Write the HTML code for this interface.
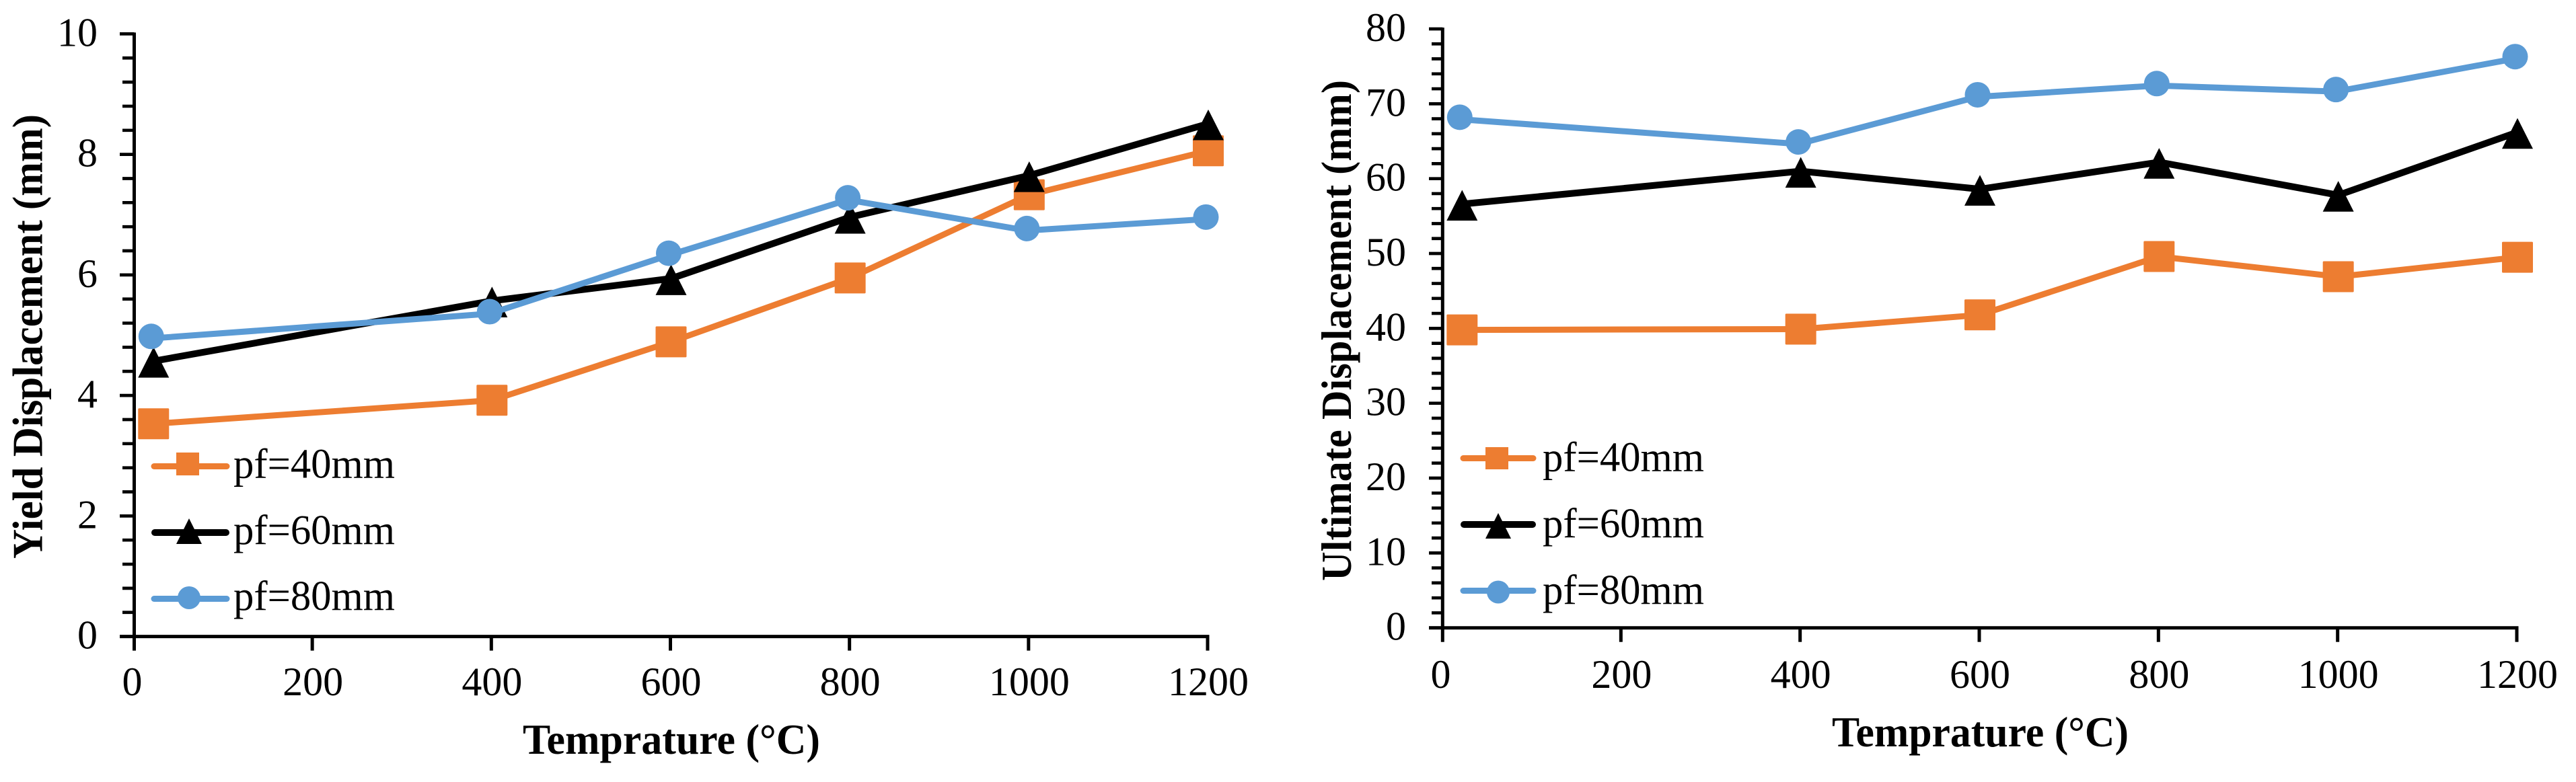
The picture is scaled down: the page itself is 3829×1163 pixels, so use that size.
<!DOCTYPE html>
<html lang="en">
<head>
<meta charset="utf-8">
<title>Yield and ultimate displacement versus temperature</title>
<style>
html,body{margin:0;padding:0;background:#fff;}
svg{display:block;}
text{font-family:"Liberation Serif",serif;fill:#000;}
.lg{font-size:62px;}
.ttl{font-size:63px;font-weight:bold;}
</style>
</head>
<body>
<svg id="figure" xmlns="http://www.w3.org/2000/svg" width="3829" height="1163" viewBox="0 0 3829 1163">
<rect x="0" y="0" width="3829" height="1163" fill="#fff"/>
<g id="chart-left">
  <text class="ttl" transform="translate(62.5 831) rotate(-90)" textLength="661" lengthAdjust="spacingAndGlyphs">Yield Displacement (mm)</text>
  <text class="ttl" x="777" y="1121" textLength="442" lengthAdjust="spacingAndGlyphs">Temprature (°C)</text>
</g>
<g id="chart-right">
  <text class="ttl" transform="translate(2008 864) rotate(-90)" textLength="745" lengthAdjust="spacingAndGlyphs">Ultimate Displacement (mm)</text>
  <text class="ttl" x="2723" y="1110" textLength="441" lengthAdjust="spacingAndGlyphs">Temprature (°C)</text>
</g>
<g>
  <g>
    <line x1="229" x2="337" y1="693.5" y2="693.5" stroke="#ED7D31" stroke-width="9" stroke-linecap="round"/>
    <rect x="262" y="673" width="34" height="34" fill="#ED7D31"/>
    <text class="lg" x="347" y="710.5" textLength="240" lengthAdjust="spacingAndGlyphs">pf=40mm</text>
  </g>
  <g>
    <line x1="230" x2="336" y1="792" y2="792" stroke="#000" stroke-width="10" stroke-linecap="round"/>
    <polygon points="281,771 262,809 300,809" fill="#000"/>
    <text class="lg" x="347" y="809" textLength="240" lengthAdjust="spacingAndGlyphs">pf=60mm</text>
  </g>
  <g>
    <line x1="229" x2="337" y1="890.5" y2="890.5" stroke="#5B9BD5" stroke-width="9" stroke-linecap="round"/>
    <circle cx="281" cy="889" r="17" fill="#5B9BD5"/>
    <text class="lg" x="347" y="907" textLength="240" lengthAdjust="spacingAndGlyphs">pf=80mm</text>
  </g>
</g>
<g>
  <g>
    <line x1="2175" x2="2279" y1="681.5" y2="681.5" stroke="#ED7D31" stroke-width="9" stroke-linecap="round"/>
    <rect x="2208" y="665" width="34" height="33" fill="#ED7D31"/>
    <text class="lg" x="2293" y="700.5" textLength="240" lengthAdjust="spacingAndGlyphs">pf=40mm</text>
  </g>
  <g>
    <line x1="2176" x2="2278" y1="780" y2="780" stroke="#000" stroke-width="10" stroke-linecap="round"/>
    <polygon points="2227,763 2208,801 2246,801" fill="#000"/>
    <text class="lg" x="2293" y="799" textLength="240" lengthAdjust="spacingAndGlyphs">pf=60mm</text>
  </g>
  <g>
    <line x1="2175" x2="2279" y1="878.5" y2="878.5" stroke="#5B9BD5" stroke-width="9" stroke-linecap="round"/>
    <circle cx="2227" cy="880.5" r="17" fill="#5B9BD5"/>
    <text class="lg" x="2293" y="898" textLength="240" lengthAdjust="spacingAndGlyphs">pf=80mm</text>
  </g>
</g>
</svg>
<script>
// Shared category values (°C)
var temperatures = [22, 400, 600, 800, 1000, 1200];
var xTickLabels = [0, 200, 400, 600, 800, 1000, 1200];

// Yield displacement chart
var yieldPf40 = [3.53, 3.92, 4.89, 5.95, 7.33, 8.06];
var yieldPf60 = [4.57, 5.57, 5.94, 6.96, 7.65, 8.51];
var yieldPf80 = [4.98, 5.39, 6.36, 7.28, 6.77, 6.96];
var yieldTickLabels = [0, 2, 4, 6, 8, 10];

// Ultimate displacement chart
var ultimatePf40 = [39.8, 39.9, 41.8, 49.6, 46.9, 49.5];
var ultimatePf60 = [56.6, 61.0, 58.6, 62.2, 57.8, 66.2];
var ultimatePf80 = [68.2, 64.9, 71.2, 72.7, 71.9, 76.3];
var ultimateTickLabels = [0, 10, 20, 30, 40, 50, 60, 70, 80];

var SVG_NS = 'http://www.w3.org/2000/svg';

function make(tag, parent) {
  var el = document.createElementNS(SVG_NS, tag);
  parent.appendChild(el);
  return el;
}

function drawChart(rootId, g, pf40, pf60, pf80, yLabels) {
  var root = document.getElementById(rootId);
  var yMax = yLabels[yLabels.length - 1];
  var yStep = yLabels[1] - yLabels[0];
  var xMax = xTickLabels[xTickLabels.length - 1];
  function xScale(v) { return g.x0 + (g.x1 - g.x0) * v / xMax; }
  function yScale(v) { return g.y0 + (g.yTop - g.y0) * v / yMax; }

  // Horizontal axis
  var xAxis = make('line', root);
  
  
  xAxis.setAttribute('x1', g.majorLeft);
  xAxis.setAttribute('x2', xScale(xMax) + 2.5);
  xAxis.setAttribute('y1', g.y0);
  xAxis.setAttribute('y2', g.y0);
  xAxis.setAttribute('stroke', '#000');
  xAxis.setAttribute('stroke-width', 5);

  // Vertical axis
  var yAxis = make('line', root);
  
  
  yAxis.setAttribute('x1', g.axisX);
  yAxis.setAttribute('x2', g.axisX);
  yAxis.setAttribute('y1', yScale(yMax) - 2);
  yAxis.setAttribute('y2', g.y0 + 21);
  yAxis.setAttribute('stroke', '#000');
  yAxis.setAttribute('stroke-width', 5);

  // Y ticks: five minor divisions per labelled step
  for (var i = 0; i <= (yLabels.length - 1) * 5; i++) {
    var val = i * yStep / 5;
    var major = i % 5 === 0;
    var t = make('line', root);
    
    
    t.setAttribute('x1', major ? g.majorLeft : g.minorLeft);
    t.setAttribute('x2', g.axisX);
    t.setAttribute('y1', yScale(val));
    t.setAttribute('y2', yScale(val));
    t.setAttribute('stroke', '#000');
    t.setAttribute('stroke-width', 4.7);
  }

  // Y tick labels
  yLabels.forEach(function (label) {
    var tx = make('text', root);
    
    
    tx.setAttribute('x', g.yLabelX);
    tx.setAttribute('y', yScale(label) + g.yLabelDy);
    tx.setAttribute('text-anchor', 'end');
    tx.setAttribute('font-size', 60);
    tx.textContent = label;
  });

  // X ticks and labels
  xTickLabels.forEach(function (label, idx) {
    if (idx > 0) {
      var t = make('line', root);
      
      
      t.setAttribute('x1', xScale(label));
      t.setAttribute('x2', xScale(label));
      t.setAttribute('y1', g.y0);
      t.setAttribute('y2', g.y0 + 21);
      t.setAttribute('stroke', '#000');
      t.setAttribute('stroke-width', 5);
    }
    var tx = make('text', root);
    
    
    tx.setAttribute('x', xScale(label) + (idx === 0 ? -1.5 : 1));
    tx.setAttribute('y', g.xLabelY);
    tx.setAttribute('text-anchor', 'middle');
    tx.setAttribute('font-size', 60);
    tx.textContent = label;
  });

  // Series line
  function polyline(values, colour, width, name, dx, dy) {
    var pts = values.map(function (v, i) {
      return (xScale(temperatures[i]) + dx) + ',' + (yScale(v) + dy);
    }).join(' ');
    var pl = make('polyline', root);
    
    
    pl.setAttribute('points', pts);
    pl.setAttribute('fill', 'none');
    pl.setAttribute('stroke', colour);
    pl.setAttribute('stroke-width', width);
    pl.setAttribute('stroke-linejoin', 'round');
  }

  // pf=40mm: orange squares
  polyline(pf40, '#ED7D31', 9, 'series-line-pf40', 1, 0);
  pf40.forEach(function (v, i) {
    var m = make('rect', root);
    
    
    m.setAttribute('x', xScale(temperatures[i]) + 1 - 23);
    m.setAttribute('y', yScale(v) - 23);
    m.setAttribute('width', 46);
    m.setAttribute('height', 46);
    m.setAttribute('rx', 1.5);
    m.setAttribute('fill', '#ED7D31');
  });

  // pf=60mm: black triangles
  polyline(pf60, '#000', 10, 'series-line-pf60', 1, 0);
  pf60.forEach(function (v, i) {
    var cx = xScale(temperatures[i]) + 1;
    var cy = yScale(v);
    var m = make('polygon', root);
    
    
    m.setAttribute('points', cx + ',' + (cy - 21) + ' ' + (cx - 23) + ',' + (cy + 24.6) + ' ' + (cx + 23) + ',' + (cy + 24.6));
    m.setAttribute('fill', '#000');
  });

  // pf=80mm: blue circles
  polyline(pf80, '#5B9BD5', 9, 'series-line-pf80', -2.5, 3);
  pf80.forEach(function (v, i) {
    var m = make('circle', root);
    
    
    m.setAttribute('cx', xScale(temperatures[i]) - 2.5);
    m.setAttribute('cy', yScale(v));
    m.setAttribute('r', 19);
    m.setAttribute('fill', '#5B9BD5');
  });
}

drawChart('chart-left',
  { x0: 198, x1: 1795, y0: 946.6, yTop: 50.4, axisX: 199.5, majorLeft: 178, minorLeft: 182, yLabelX: 145, yLabelDy: 18, xLabelY: 1034 },
  yieldPf40, yieldPf60, yieldPf80, yieldTickLabels);

drawChart('chart-right',
  { x0: 2143, x1: 3741, y0: 933.7, yTop: 43, axisX: 2144.3, majorLeft: 2124, minorLeft: 2128, yLabelX: 2090, yLabelDy: 18, xLabelY: 1023 },
  ultimatePf40, ultimatePf60, ultimatePf80, ultimateTickLabels);
</script>
</body>
</html>
